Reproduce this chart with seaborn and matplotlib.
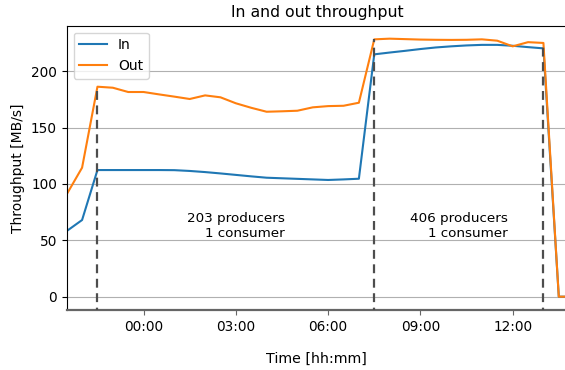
import pandas as pd
import matplotlib
matplotlib.use('Agg')
import matplotlib.pyplot as plt
import matplotlib.dates as mdates
import seaborn as sns

# sample times (30 min steps, last one 15 min later)
times = [
    '2021-01-01 21:30', '2021-01-01 22:00', '2021-01-01 22:30', '2021-01-01 23:00',
    '2021-01-01 23:30', '2021-01-02 00:00', '2021-01-02 00:30', '2021-01-02 01:00',
    '2021-01-02 01:30', '2021-01-02 02:00', '2021-01-02 02:30', '2021-01-02 03:00',
    '2021-01-02 03:30', '2021-01-02 04:00', '2021-01-02 04:30', '2021-01-02 05:00',
    '2021-01-02 05:30', '2021-01-02 06:00', '2021-01-02 06:30', '2021-01-02 07:00',
    '2021-01-02 07:30', '2021-01-02 08:00', '2021-01-02 08:30', '2021-01-02 09:00',
    '2021-01-02 09:30', '2021-01-02 10:00', '2021-01-02 10:30', '2021-01-02 11:00',
    '2021-01-02 11:30', '2021-01-02 12:00', '2021-01-02 12:30', '2021-01-02 13:00',
    '2021-01-02 13:30', '2021-01-02 13:45',
]

throughput_in = [
    58.2, 68.0, 112.3, 112.3, 112.3, 112.3, 112.3, 112.2,
    111.5, 110.5, 109.3, 108.0, 106.7, 105.5, 105.0, 104.5,
    104.0, 103.5, 104.0, 104.6, 214.9, 216.5, 218.0, 219.6,
    221.0, 222.0, 222.8, 223.3, 223.3, 222.5, 221.3, 220.2,
    0.0, 0.0,
]

throughput_out = [
    90.8, 114.4, 186.2, 185.3, 181.5, 181.5, 179.4, 177.4,
    175.3, 178.5, 176.8, 171.5, 167.5, 164.0, 164.4, 164.9,
    167.9, 169.0, 169.3, 172.0, 228.2, 228.8, 228.4, 228.0,
    227.8, 227.7, 227.8, 228.2, 227.0, 222.0, 225.7, 225.0,
    0.0, 0.0,
]

# phase changes
phase_times = ['2021-01-01 22:30', '2021-01-02 07:30', '2021-01-02 13:00']
phase_labels = ['203 producers\n1 consumer', '406 producers\n1 consumer']

df = pd.DataFrame({
    'time': pd.to_datetime(times),
    'In': throughput_in,
    'Out': throughput_out,
})
phases = pd.to_datetime(phase_times)

fig = plt.figure(figsize=(5.65, 3.7), dpi=100)
ax = fig.add_axes([66.7 / 565, 60 / 370, (567 - 66.7) / 565, (310 - 25.7) / 370])

sns.lineplot(data=df, x='time', y='In', label='In', color='#1f77b4', lw=1.5, ax=ax)
sns.lineplot(data=df, x='time', y='Out', label='Out', color='#ff7f0e', lw=1.5, ax=ax)

# dashed markers up to the Out curve
out_at = df.set_index('time')['Out']
ax.vlines(phases, -30, out_at.loc[phases].values, colors='0.3',
          linestyles=(0, (4, 2.5)), lw=1.6, zorder=3)

for i, txt in enumerate(phase_labels):
    mid = phases[i] + (phases[i + 1] - phases[i]) / 2
    ax.text(mid, 63, txt, ha='center', va='center', multialignment='right',
            fontsize=9.7)

ax.set_xlim(df['time'].iloc[0], pd.Timestamp('2021-01-02 13:46'))
ax.set_ylim(-11.8, 240.3)
ax.set_yticks([0, 50, 100, 150, 200])

ax.xaxis.set_major_locator(mdates.HourLocator(byhour=[0, 3, 6, 9, 12]))
ax.xaxis.set_major_formatter(mdates.DateFormatter('%H:%M'))

ax.grid(axis='y', color='#b0b0b0', lw=0.8)
ax.set_axisbelow(True)

ax.spines['bottom'].set_color('0.4')
ax.spines['bottom'].set_linewidth(1.6)
ax.spines['right'].set_visible(False)
ax.tick_params(axis='x', colors='0.4', labelcolor='black', labelsize=9.8)
ax.tick_params(axis='y', labelsize=9.8)

ax.set_title('In and out throughput', fontsize=11.3)
ax.set_xlabel('Time [hh:mm]', fontsize=10.2, labelpad=13)
ax.set_ylabel('Throughput [MB/s]', fontsize=10)
ax.legend(loc='upper left', fontsize=10)

fig.savefig('out.png', dpi=100)
